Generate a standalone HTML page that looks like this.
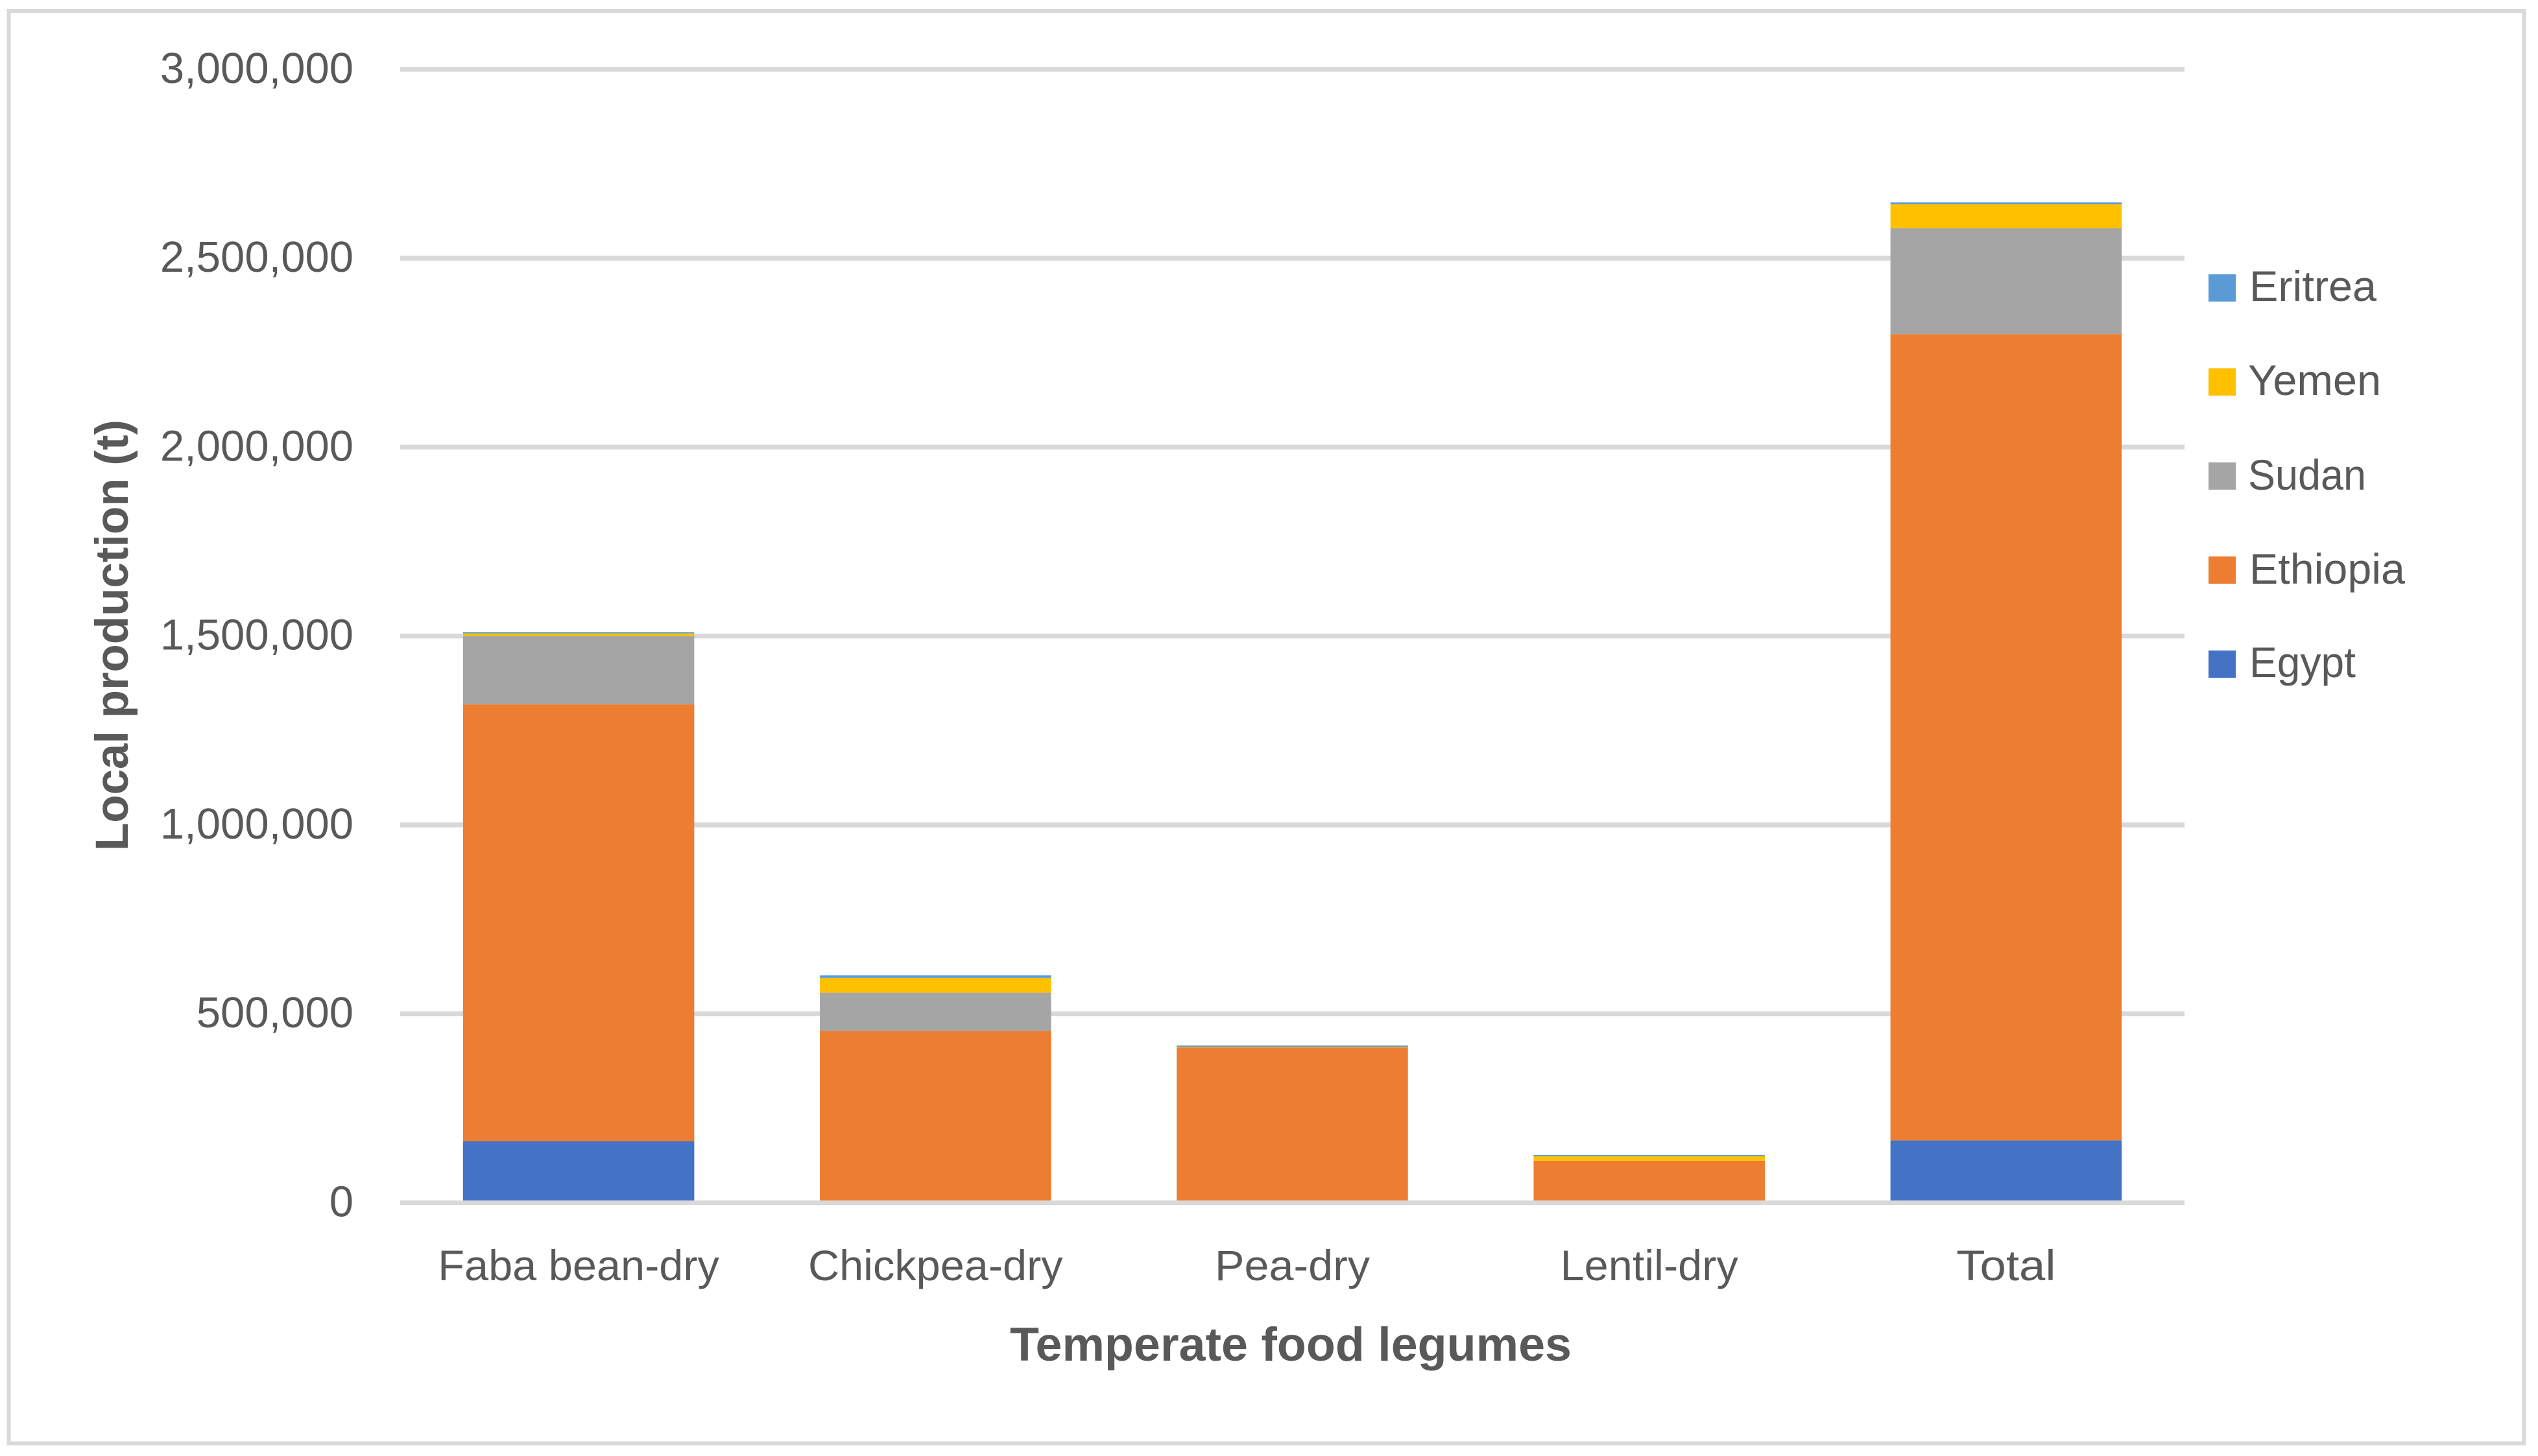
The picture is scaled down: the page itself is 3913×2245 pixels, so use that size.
<!DOCTYPE html>
<html lang="en">
<head>
<meta charset="utf-8">
<title>Temperate food legumes local production</title>
<style>
html,body{margin:0;padding:0;background:#fff;width:3913px;height:2245px;overflow:hidden}
svg{display:block}
text{font-family:"Liberation Sans",sans-serif;fill:#595959}
</style>
</head>
<body>
<svg id="chart" xmlns="http://www.w3.org/2000/svg" width="3913" height="2245" viewBox="0 0 3913 2245">
  <rect x="0" y="0" width="3913" height="2245" fill="#ffffff"/>
  <rect x="13.5" y="17" width="3878" height="2208.5" fill="none" stroke="#d9d9d9" stroke-width="6"/>
  <g id="grid"></g>
  <g id="bars"></g>
  <g id="axis"></g>
  <g id="yticks"></g>
  <g id="xticks"></g>
  <text x="1557" y="2098" font-size="73" font-weight="700" textLength="866" lengthAdjust="spacingAndGlyphs">Temperate food legumes</text>
  <text transform="translate(197 1312) rotate(-90)" x="0" y="0" font-size="71" font-weight="700" textLength="665" lengthAdjust="spacingAndGlyphs">Local production (t)</text>
  <g>
    <g>
      <rect x="3405" y="423" width="42" height="42" fill="#5b9bd5"/>
      <text x="3468" y="464" font-size="66" textLength="196" lengthAdjust="spacingAndGlyphs">Eritrea</text>
    </g>
    <g>
      <rect x="3405" y="568" width="42" height="42" fill="#ffc000"/>
      <text x="3466" y="609" font-size="66" textLength="205" lengthAdjust="spacingAndGlyphs">Yemen</text>
    </g>
    <g>
      <rect x="3405" y="713" width="42" height="42" fill="#a5a5a5"/>
      <text x="3466" y="755" font-size="66" textLength="182" lengthAdjust="spacingAndGlyphs">Sudan</text>
    </g>
    <g>
      <rect x="3405" y="858" width="42" height="42" fill="#ed7d31"/>
      <text x="3468" y="900" font-size="66" textLength="240" lengthAdjust="spacingAndGlyphs">Ethiopia</text>
    </g>
    <g>
      <rect x="3405" y="1003" width="42" height="42" fill="#4472c4"/>
      <text x="3468" y="1044" font-size="66" textLength="164" lengthAdjust="spacingAndGlyphs">Egypt</text>
    </g>
  </g>
</svg>
<script>
const categories = ["Faba bean-dry", "Chickpea-dry", "Pea-dry", "Lentil-dry", "Total"];
const egypt = [163000, 0, 0, 0, 165000];
const ethiopia = [1156000, 454000, 411000, 111000, 2134000];
const sudan = [181000, 102000, 0, 0, 280000];
const yemen = [7000, 39000, 1700, 12000, 63500];
const eritrea = [3100, 6900, 3400, 3400, 5000];
const yTicks = [0, 500000, 1000000, 1500000, 2000000, 2500000, 3000000];
const yTickLabels = ["0", "500,000", "1,000,000", "1,500,000", "2,000,000", "2,500,000", "3,000,000"];

const NS = "http://www.w3.org/2000/svg";
const plotLeft = 617, plotRight = 3368, zeroY = 1854.5, topY = 106.8, yMax = 3000000;
const barRatio = 0.648;
const gridColor = "#d9d9d9", gridWidth = 7.5;

function yScale(v) { return zeroY - (v / yMax) * (zeroY - topY); }
function bandWidth() { return (plotRight - plotLeft) / categories.length; }
function xCenter(i) { return plotLeft + bandWidth() * (i + 0.5); }
function fitFactor(n) { return n <= 5 ? 1.1 : n <= 7 ? 1.035 : 1.01; }

const stack = [
  { key: "egypt", values: egypt, color: "#4472c4" },
  { key: "ethiopia", values: ethiopia, color: "#ed7d31" },
  { key: "sudan", values: sudan, color: "#a5a5a5" },
  { key: "yemen", values: yemen, color: "#ffc000" },
  { key: "eritrea", values: eritrea, color: "#5b9bd5" }
];

const gridG = document.getElementById("grid");
const barsG = document.getElementById("bars");
const axisG = document.getElementById("axis");
const yG = document.getElementById("yticks");
const xG = document.getElementById("xticks");

yTicks.forEach(function (t, i) {
  const y = yScale(t);
  if (t !== 0) {
    const line = document.createElementNS(NS, "rect");
    
    
    line.setAttribute("x", plotLeft);
    line.setAttribute("y", y - gridWidth / 2);
    line.setAttribute("width", plotRight - plotLeft);
    line.setAttribute("height", gridWidth);
    line.setAttribute("fill", gridColor);
    gridG.appendChild(line);
  }
  const label = document.createElementNS(NS, "text");
  
  
  label.setAttribute("x", 545);
  label.setAttribute("y", y + 21);
  label.setAttribute("text-anchor", "end");
  label.setAttribute("font-size", 67);
  label.textContent = yTickLabels[i];
  yG.appendChild(label);
});

categories.forEach(function (c, i) {
  const w = bandWidth() * barRatio;
  let base = 0;
  stack.forEach(function (s) {
    const v = s.values[i];
    if (v > 0) {
      const r = document.createElementNS(NS, "rect");
      
      
      r.setAttribute("x", xCenter(i) - w / 2);
      r.setAttribute("y", yScale(base + v));
      r.setAttribute("width", w);
      r.setAttribute("height", yScale(base) - yScale(base + v));
      r.setAttribute("fill", s.color);
      barsG.appendChild(r);
    }
    base += v;
  });
  const label = document.createElementNS(NS, "text");
  
  
  label.setAttribute("x", xCenter(i));
  label.setAttribute("y", 1974);
  label.setAttribute("text-anchor", "middle");
  label.setAttribute("font-size", 66);
  label.textContent = c;
  xG.appendChild(label);
  const natural = label.getComputedTextLength();
  label.setAttribute("textLength", natural * fitFactor(c.length));
  label.setAttribute("lengthAdjust", "spacingAndGlyphs");
});

const axisLine = document.createElementNS(NS, "rect");


axisLine.setAttribute("x", plotLeft);
axisLine.setAttribute("y", zeroY - 3.5);
axisLine.setAttribute("width", plotRight - plotLeft);
axisLine.setAttribute("height", 7);
axisLine.setAttribute("fill", gridColor);
axisG.appendChild(axisLine);
</script>
</body>
</html>
